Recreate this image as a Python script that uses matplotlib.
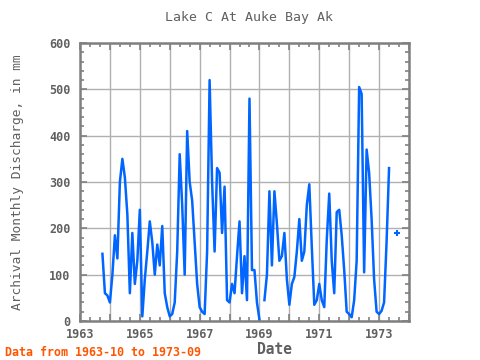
import numpy as np
import matplotlib
matplotlib.use("Agg")
import matplotlib.pyplot as plt
from matplotlib.ticker import MultipleLocator

title = "Lake C At Auke Bay Ak"
ylabel = "Archival Monthly Discharge, in mm"
xlabel = "Date"
note = "Data from 1963-10 to 1973-09"

start_year = 1963
start_month = 10  # October 1963
nan = np.nan
discharge = [
    145, 60, 55, 40, 100, 185, 135, 300, 350, 310, 230, 60,      # WY1964
    190, 80, 130, 240, 10, 90, 150, 215, 170, 100, 165, 120,      # WY1965
    205, 60, 30, 10, 15, 40, 150, 360, 250, 100, 410, 300,        # WY1966
    260, 170, 80, 30, 20, 15, 150, 520, 300, 150, 330, 320,       # WY1967
    190, 290, 45, 40, 80, 60, 140, 215, 60, 140, 45, 480,         # WY1968
    110, 110, 40, 3, nan, 45, 100, 280, 120, 280, 210, 130,       # WY1969
    140, 190, 90, 35, 80, 95, 150, 220, 130, 150, 250, 295,       # WY1970
    160, 35, 45, 80, 45, 30, 175, 275, 130, 60, 235, 240,         # WY1971
    185, 110, 20, 15, 8, 45, 130, 505, 490, 105, 370, 320,        # WY1972
    220, 90, 20, 15, 22, 40, 170, 330, nan, nan, 190, nan,        # WY1973
]

vals = np.array(discharge, dtype=float)
idx = np.arange(len(vals))
dates = start_year + (start_month - 1 + idx) / 12.0

fig = plt.figure(figsize=(4.8, 3.6), dpi=100)
ax = fig.add_axes([80/480, 1 - 321/360, (409-80)/480, (321-43)/360])

gray = "#808080"
txt = "#606060"
font = "DejaVu Sans Mono"

ax.plot(dates, vals, color="#0066ff", lw=1.8)
# isolated points (no neighbours) drawn as markers
prev_nan = np.r_[True, np.isnan(vals[:-1])]
next_nan = np.r_[np.isnan(vals[1:]), True]
iso = ~np.isnan(vals) & prev_nan & next_nan
ax.plot(dates[iso], vals[iso], ls="none", marker="+", ms=4, mew=1.5, color="#0066ff")

ax.set_xlim(1963, 1974)
ax.set_ylim(0, 600)
ax.xaxis.set_major_locator(MultipleLocator(1))
ax.xaxis.set_minor_locator(MultipleLocator(1/3))
ax.yaxis.set_major_locator(MultipleLocator(100))
ax.yaxis.set_minor_locator(MultipleLocator(20))
ax.grid(True, which="major", color="#b0b0b0", lw=1)
ax.set_axisbelow(True)

ax.set_xticks(np.arange(1963, 1975, 1))
ax.set_xticklabels([str(y) if (y - 1963) % 2 == 0 else "" for y in range(1963, 1975)])

ax.tick_params(which="both", direction="in", top=True, right=True, color=gray,
               labelcolor=txt, labelsize=8.5, width=1.2)
ax.tick_params(which="major", length=5)
ax.tick_params(which="minor", length=3)
ax.tick_params(axis="x", pad=5)
ax.tick_params(axis="y", pad=7)
for lab in ax.get_xticklabels() + ax.get_yticklabels():
    lab.set_fontfamily(font)
    lab.set_fontweight("bold")
for sp in ax.spines.values():
    sp.set_color(gray)
    sp.set_linewidth(1.8)

fig.text(249/480, 1 - 18/360, title, ha="center", va="center", fontsize=9.5,
         family=font, color=txt)
fig.text(18/480, 1 - 182/360, ylabel, ha="center", va="center", rotation=90,
         fontsize=9.3, family=font, color=txt)
fig.text(274/480, 1 - 349/360, xlabel, ha="center", va="center", fontsize=10.5,
         family=font, color=txt, fontweight="bold")
fig.text(5/480, 1 - 353/360, note, ha="left", va="center", fontsize=8.4,
         family=font, color="#ff5500", fontweight="bold")

fig.savefig("out.png", dpi=100)
